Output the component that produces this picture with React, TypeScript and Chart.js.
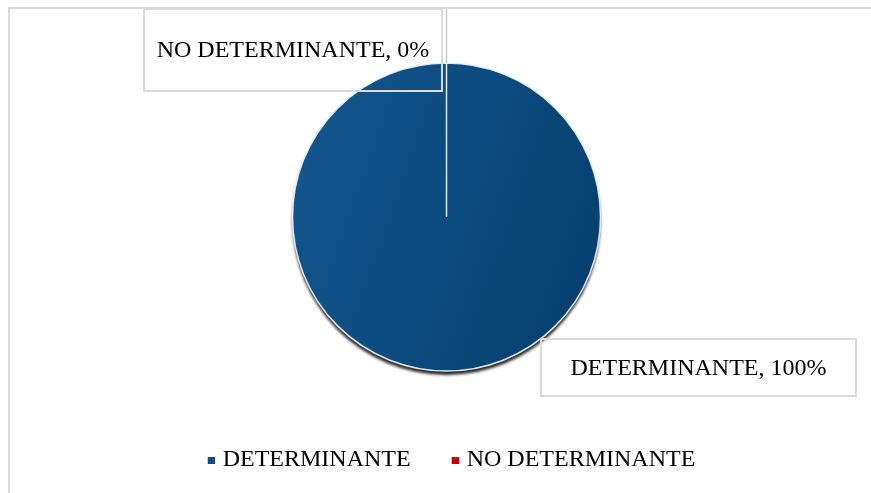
import React, { useEffect, useRef } from 'react';
import { Chart, registerables } from 'chart.js';

Chart.register(...registerables);

const categories: string[] = ['DETERMINANTE', 'NO DETERMINANTE'];
const values: number[] = [100, 0];
const legendColors: string[] = ['#0e4d85', '#c00000'];

const FONT = "'Liberation Serif', 'Times New Roman', serif";

function makeMarker(color: string): HTMLCanvasElement {
  // legend marker: a 7x7 square drawn at the right end of a wider transparent image
  const c = document.createElement('canvas');
  c.width = 21;
  c.height = 7;
  const g = c.getContext('2d');
  if (g) {
    g.fillStyle = color;
    g.fillRect(14, 0, 7, 7);
  }
  return c;
}

const framePlugin = {
  id: 'frame',
  beforeDraw(chart: any) {
    const ctx = chart.ctx;
    ctx.save();
    ctx.fillStyle = '#ffffff';
    ctx.fillRect(0, 0, chart.width, chart.height);
    ctx.fillStyle = '#d9d9d9';
    ctx.fillRect(8, 7, 2, chart.height);
    ctx.fillRect(8, 7, chart.width, 2);
    ctx.restore();
  },
};

const shadowPlugin = {
  id: 'pieShadow',
  beforeDatasetsDraw(chart: any) {
    const arc = chart.getDatasetMeta(0).data[0];
    if (!arc) return;
    const ctx = chart.ctx;
    ctx.save();
    ctx.shadowColor = 'rgba(0,0,0,0.85)';
    ctx.shadowBlur = 3;
    ctx.shadowOffsetY = 4;
    ctx.fillStyle = '#06355c';
    ctx.beginPath();
    ctx.arc(arc.x, arc.y, arc.outerRadius, 0, Math.PI * 2);
    ctx.fill();
    ctx.restore();
  },
};

const labelPlugin = {
  id: 'boxLabels',
  afterDatasetsDraw(chart: any) {
    const arc = chart.getDatasetMeta(0).data[0];
    if (!arc) return;
    const cx = arc.x;
    const cy = arc.y;
    const r = arc.outerRadius;
    const total = values.reduce((a, b) => a + b, 0);
    const texts = categories.map((c, i) => `${c}, ${Math.round((values[i] / total) * 100)}%`);
    const ctx = chart.ctx;
    ctx.save();
    const boxes = [
      { x: cx + 94.5, y: cy + 122, w: 315, h: 57 },
      { x: cx - 302.5, y: cy - r - 54, w: 298, h: 82 },
    ];
    // leader line for the 0% slice
    ctx.strokeStyle = '#c8c8c8';
    ctx.lineWidth = 1.5;
    ctx.beginPath();
    ctx.moveTo(cx, cy - r);
    ctx.lineTo(cx, boxes[1].y);
    ctx.stroke();

    ctx.strokeStyle = '#d9d9d9';
    ctx.lineWidth = 2;
    ctx.font = `24px ${FONT}`;
    ctx.fillStyle = '#000000';
    ctx.textAlign = 'center';
    ctx.textBaseline = 'middle';
    boxes.forEach((b, i) => {
      ctx.strokeRect(b.x, b.y, b.w, b.h);
      ctx.fillText(texts[i], b.x + b.w / 2, b.y + b.h / 2 + 1);
    });
    ctx.restore();
  },
};

export default function App() {
  const canvasRef = useRef<HTMLCanvasElement | null>(null);

  useEffect(() => {
    const canvas = canvasRef.current;
    if (!canvas) return;
    const markers = legendColors.map(makeMarker);
    const chart = new Chart(canvas, {
      type: 'pie',
      data: {
        labels: categories,
        datasets: [
          {
            data: values,
            backgroundColor: (c: any) => {
              if (c.dataIndex === 1) return legendColors[1];
              const ch = c.chart;
              const area = ch.chartArea;
              if (!area) return legendColors[0];
              const cx = (area.left + area.right) / 2;
              const cy = (area.top + area.bottom) / 2;
              const r = 155;
              const g = ch.ctx.createLinearGradient(cx - r, cy - r * 0.35, cx + r, cy + r * 0.35);
              g.addColorStop(0, '#13558c');
              g.addColorStop(0.5, '#0b4a7e');
              g.addColorStop(1, '#053f6f');
              return g;
            },
            borderColor: 'rgba(235,242,250,0.95)',
            borderWidth: 1.5,
            radius: 154,
          } as any,
        ],
      },
      options: {
        responsive: false,
        animation: false,
        layout: { padding: { left: 22, right: 0, top: 17, bottom: 11 } },
        plugins: {
          tooltip: { enabled: false },
          legend: {
            position: 'bottom',
            labels: {
              usePointStyle: true,
              boxWidth: 13,
              boxHeight: 7,
              padding: 31,
              color: '#000000',
              font: { family: FONT, size: 24 },
              generateLabels: () =>
                categories.map((c, i) => ({
                  text: c,
                  fillStyle: legendColors[i],
                  strokeStyle: legendColors[i],
                  lineWidth: 0,
                  hidden: false,
                  index: i,
                  pointStyle: markers[i] as any,
                  fontColor: '#000000',
                })),
            },
          },
        },
      },
      plugins: [framePlugin, shadowPlugin, labelPlugin],
    });
    return () => chart.destroy();
  }, []);

  return (
    <div style={{ position: 'fixed', left: 0, top: 0, width: 871, height: 493 }}>
      <canvas ref={canvasRef} width={871} height={493} style={{ display: 'block' }} />
    </div>
  );
}
